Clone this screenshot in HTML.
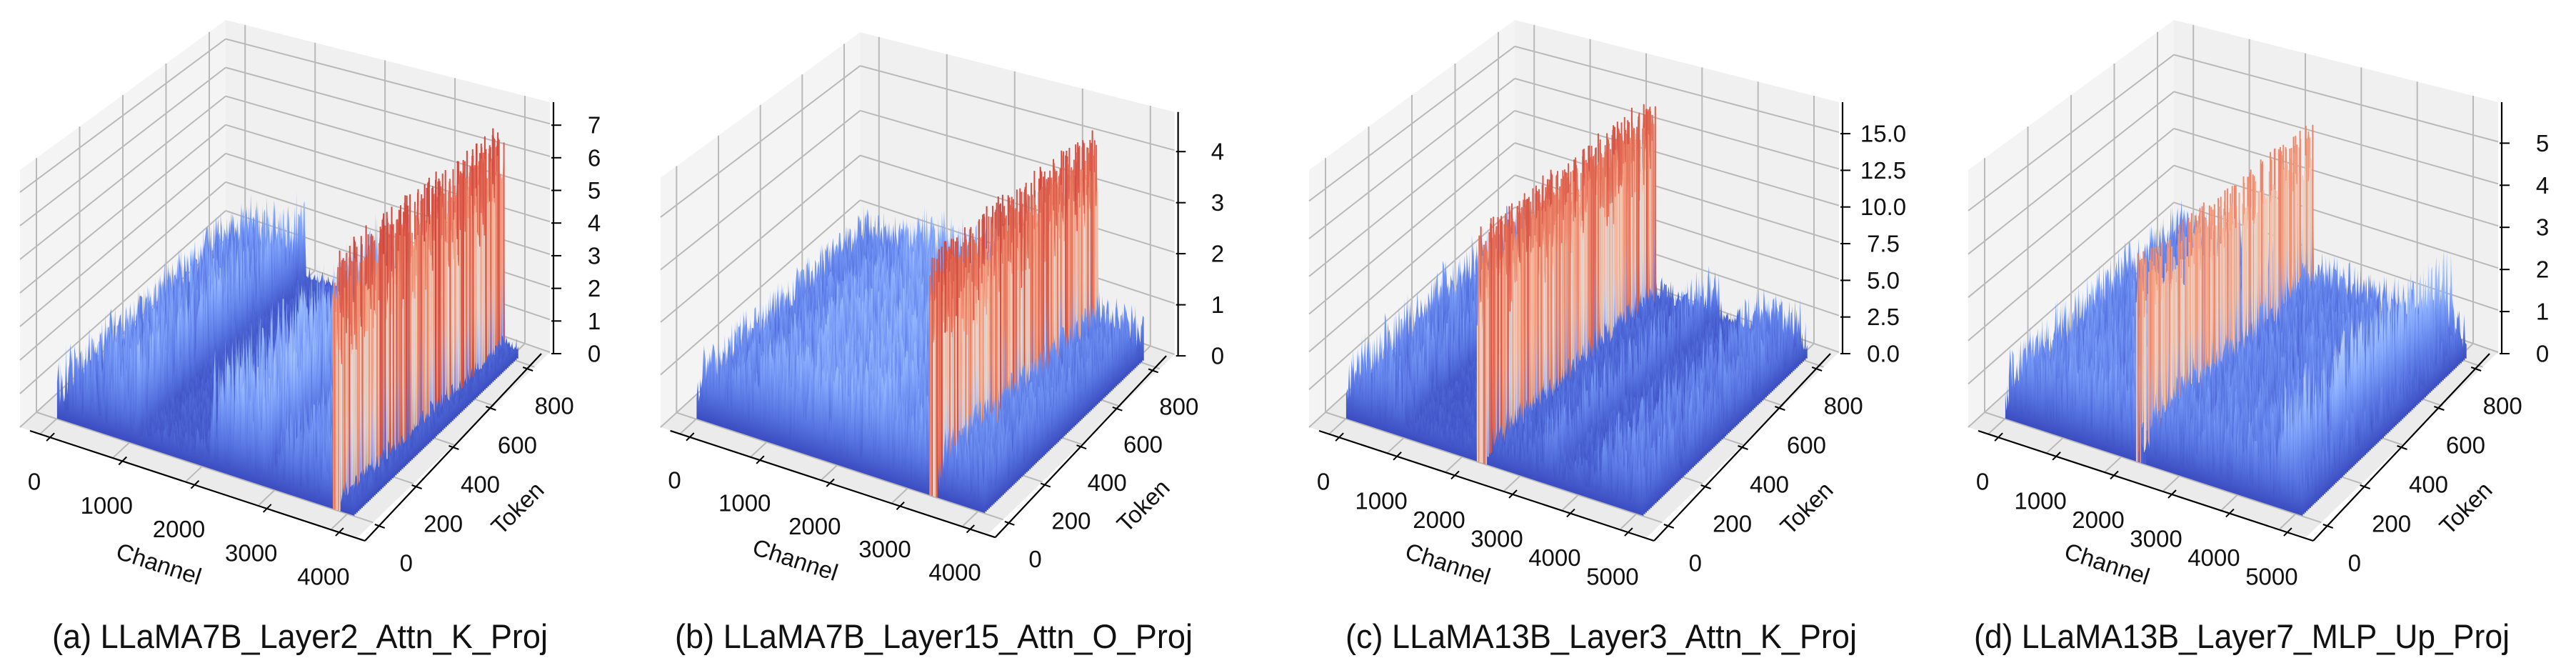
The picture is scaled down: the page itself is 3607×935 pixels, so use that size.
<!DOCTYPE html>
<html>
<head>
<meta charset="utf-8">
<style>
html,body{margin:0;padding:0;background:#fff;}
svg{display:block;}
text{font-family:"Liberation Sans",sans-serif;fill:#111;}
</style>
</head>
<body>
<svg id="fig" xmlns="http://www.w3.org/2000/svg" width="3607" height="935" viewBox="0 0 3607 935">
<defs id="defs"></defs>
<rect x="0" y="0" width="3607" height="935" fill="#ffffff"/>
</svg>
<script>
// ---------------- data ----------------
const panelTitles = ["(a) LLaMA7B_Layer2_Attn_K_Proj","(b) LLaMA7B_Layer15_Attn_O_Proj","(c) LLaMA13B_Layer3_Attn_K_Proj","(d) LLaMA13B_Layer7_MLP_Up_Proj"];
const channelTicksA = [0,1000,2000,3000,4000];
const channelTicksB = [0,1000,2000,3000,4000];
const channelTicksC = [0,1000,2000,3000,4000,5000];
const channelTicksD = [0,1000,2000,3000,4000,5000];
const tokenTicks = [0,200,400,600,800];
const zTicksA = [0,1,2,3,4,5,6,7];
const zTicksB = [0,1,2,3,4];
const zTicksC = [0,2.5,5,7.5,10,12.5,15];
const zTicksD = [0,1,2,3,4,5];
const zLimits = [7.66,4.75,17.05,5.94];
const channelCounts = [4096,4096,5120,5120];
const tokenCount = 810;
// magnitude level per channel region (region start channel / typical peak magnitude)
const regionStartA = [0,300,1000,1100,1900,2050,2900,3050,3800,3900];
const regionLevelA = [1.8,2.4,3.0,0.5,0.8,3.0,0.8,2.0,7.0,0.5];
const regionStartB = [0,800,2600,3300,3420];
const regionLevelB = [1.2,1.6,1.3,4.3,1.0];
const regionStartC = [0,1000,2250,2420,3400,3550,4300,4500];
const regionLevelC = [4.5,1.0,15.0,2.0,4.5,1.5,4.0,3.5];
const regionStartD = [0,2250,2420,4700,4950];
const regionLevelD = [1.6,4.6,1.3,2.6,1.0];

// ---------------- layout / style ----------------
const chTicksAll = [channelTicksA,channelTicksB,channelTicksC,channelTicksD];
const zTicksAll = [zTicksA,zTicksB,zTicksC,zTicksD];
const regStarts = [regionStartA,regionStartB,regionStartC,regionStartD];
const regLevels = [regionLevelA,regionLevelB,regionLevelC,regionLevelD];
const roughExp = [3,2,3,2.5];
const denseOut = [true,true,true,false];
const ox = [0,897,1805,2728];
const sc = [1,0.97,1.0,1.0];
const capX = [[73,767],[945,1670],[1884,2600],[2764,3514]];
const GA=[28,598], GB=[501,752], GC=[770,493], GD=[316,335];
const GH=[360,410,350,307];
const NS='http://www.w3.org/2000/svg';
const svg=document.getElementById('fig');
const defs=document.getElementById('defs');

function mk(tag, attrs, parent){
  const e=document.createElementNS(NS,tag);
  for(const k in attrs) e.setAttribute(k, attrs[k]);
  (parent||svg).appendChild(e);
  return e;
}
const cwStops=[[0,[59,76,192]],[0.1,[84,112,222]],[0.2,[110,144,242]],[0.3,[141,176,254]],[0.4,[170,199,253]],[0.5,[221,220,220]],[0.6,[242,203,183]],[0.7,[244,164,135]],[0.8,[231,116,91]],[0.9,[209,73,63]],[1,[180,4,38]]];
function coolwarm(t){
  t=Math.max(0,Math.min(1,t));
  for(let i=1;i<cwStops.length;i++){
    if(t<=cwStops[i][0]){
      const a=cwStops[i-1], b=cwStops[i]; const f=(t-a[0])/(b[0]-a[0]);
      const c=a[1].map((x,k)=>Math.round(x+(b[1][k]-x)*f));
      return 'rgb('+c.join(',')+')';
    }
  }
  return 'rgb(180,4,38)';
}
function P(pi,u,v,z){
  const w=[(1-u)*(1-v),u*(1-v),u*v,(1-u)*v];
  const x=GA[0]*w[0]+GB[0]*w[1]+GC[0]*w[2]+GD[0]*w[3];
  const y=GA[1]*w[0]+GB[1]*w[1]+GC[1]*w[2]+GD[1]*w[3];
  const h=GH[0]*w[0]+GH[1]*w[1]+GH[2]*w[2]+GH[3]*w[3];
  const yy=y-h*z/zLimits[pi];
  return [ox[pi]+28+sc[pi]*(x-28), 598+sc[pi]*(yy-598)];
}
function chMaxTick(pi){ const t=chTicksAll[pi]; return t[t.length-1]; }
function uOf(pi,ch){ return 0.06+0.863*ch/chMaxTick(pi); }
function vOf(tok){ return 0.08+0.84*tok/800; }
function T(pi,x,y){ return [ox[pi]+28+sc[pi]*(x-28), 598+sc[pi]*(y-598)]; }
function levelAt(pi,ch){
  const s=regStarts[pi], l=regLevels[pi]; let k=0;
  for(let i=0;i<s.length;i++) if(s[i]<=ch) k=i;
  return l[k];
}
function texture(i,r,p){ const s=Math.sin(i*12.9898+r*78.233+p*37.719)*43758.5453; return s-Math.floor(s); }
function heightAt(pi,ch,i,r){
  const L=levelAt(pi,ch), zh=zLimits[pi], n=texture(i,r,pi);
  if(L>0.6*zh){
    if(denseOut[pi]) return L*(0.55+0.45*n);
    return n>0.55 ? L*(0.3+0.7*n) : L*0.3*n+0.03*zh;
  }
  return 0.03*zh + L*Math.pow(n,roughExp[pi]);
}
function line(p,q,stroke,w,parent){
  return mk('line',{x1:p[0].toFixed(1),y1:p[1].toFixed(1),x2:q[0].toFixed(1),y2:q[1].toFixed(1),stroke:stroke,'stroke-width':w},parent);
}
function poly(pts){ return pts.map(p=>p[0].toFixed(1)+','+p[1].toFixed(1)).join(' '); }

for(let pi=0;pi<4;pi++){
  const zh=zLimits[pi];
  const g=mk('g',{});
  
  
  const leftPane=mk('polygon',{points:poly([P(pi,0,0,0),P(pi,0,1,0),P(pi,0,1,zh),P(pi,0,0,zh)]),fill:'#f4f4f4'},g);
  
  
  const backPane=mk('polygon',{points:poly([P(pi,0,1,0),P(pi,1,1,0),P(pi,1,1,zh),P(pi,0,1,zh)]),fill:'#f0f0f0'},g);
  
  
  const floorPane=mk('polygon',{points:poly([P(pi,0,0,0),P(pi,1,0,0),P(pi,1,1,0),P(pi,0,1,0)]),fill:'#ebebeb'},g);
  
  
  const grid=mk('g',{},g);
  
  
  const gc='#b9b9b9', gw=2;
  tokenTicks.forEach(t=>{const v=vOf(t); line(P(pi,0,v,0),P(pi,0,v,zh),gc,gw,grid); line(P(pi,0,v,0),P(pi,1,v,0),gc,gw,grid);});
  chTicksAll[pi].forEach(c=>{const u=uOf(pi,c); line(P(pi,u,1,0),P(pi,u,1,zh),gc,gw,grid); line(P(pi,u,0,0),P(pi,u,1,0),gc,gw,grid);});
  zTicksAll[pi].forEach(z=>{ line(P(pi,0,0,z),P(pi,0,1,z),gc,gw,grid); line(P(pi,0,1,z),P(pi,1,1,z),gc,gw,grid);});
  const surf=mk('g',{},g);
  
  
  const NB=240, chN=channelCounts[pi];
  let r=0;
  for(let tok=tokenCount; tok>=0; tok-=8, r++){
    const v=vOf(tok);
    const p0=P(pi,0,v,0), p1=P(pi,1,v,0);
    const slope=(p1[1]-p0[1])/(p1[0]-p0[0]);
    const S=((p0[1]-P(pi,0,v,zh)[1])+(p1[1]-P(pi,1,v,zh)[1]))/2;
    const y0=p0[1]-slope*p0[0];
    const gid='g'+pi+'_'+r;
    const lg=mk('linearGradient',{id:gid,gradientUnits:'userSpaceOnUse',x1:0,y1:0,x2:0,y2:1,gradientTransform:'matrix(1 '+slope.toFixed(5)+' 0 '+(-S).toFixed(2)+' 0 '+y0.toFixed(2)+')'},defs);
    for(let k=0;k<=10;k++) mk('stop',{offset:k/10,'stop-color':coolwarm(k/10)},lg);
    const pts=[P(pi,uOf(pi,0),v,0)];
    const outl=[];
    for(let i=0;i<=NB;i++){
      const ch=i/NB*chN, u=uOf(pi,ch);
      const h=heightAt(pi,ch,i,r);
      const q=P(pi,u,v,h);
      pts.push(q);
      if(levelAt(pi,ch)>0.6*zh) outl.push([P(pi,u,v,0),q,h]);
    }
    pts.push(P(pi,uOf(pi,chN),v,0));
    const row=mk('polygon',{points:poly(pts),fill:'url(#'+gid+')'},surf);
    
    
    outl.forEach(o=>{
      const sp=line(o[0],o[1],coolwarm(o[2]/zh),2,surf);
      
      
    });
  }
  const ax=mk('g',{},g);
  
  
  const XA=[GA[0]+14,GA[1]+5], XB=[GB[0]+10,GB[1]+5];
  const xl=line(T(pi,XA[0],XA[1]),T(pi,XB[0],XB[1]),'#000',2.2,ax);
  
  
  chTicksAll[pi].forEach(c=>{
    const u=uOf(pi,c);
    const px=XA[0]+u*(XB[0]-XA[0]), py=XA[1]+u*(XB[1]-XA[1]);
    line(T(pi,px-5,py+5),T(pi,px+6,py-6),'#000',2,ax);
    const lp=T(pi,px-22,py+62);
    const tx=mk('text',{x:lp[0].toFixed(1),y:lp[1].toFixed(1),'font-size':33,'text-anchor':'middle','dominant-baseline':'central'},ax);
    
    
    tx.textContent=String(c);
  });
  const TA=[511,757], TB=[758,495];
  const tl=line(T(pi,TA[0],TA[1]),T(pi,TB[0],TB[1]),'#000',2.2,ax);
  
  
  tokenTicks.forEach(t=>{
    const v=vOf(t);
    const px=TA[0]+v*(TB[0]-TA[0]), py=TA[1]+v*(TB[1]-TA[1]);
    line(T(pi,px-6,py-2),T(pi,px+8,py+3),'#000',2,ax);
    const lp=T(pi,px+38,py+52);
    const tx=mk('text',{x:lp[0].toFixed(1),y:lp[1].toFixed(1),'font-size':33,'text-anchor':'middle','dominant-baseline':'central'},ax);
    
    
    tx.textContent=String(t);
  });
  const zx=GC[0]+5;
  const zl=line(T(pi,zx,GC[1]+2),T(pi,zx,GC[1]-GH[2]),'#000',2.2,ax);
  
  
  zTicksAll[pi].forEach(z=>{
    const y=GC[1]+2-GH[2]*z/zh;
    line(T(pi,zx-3,y),T(pi,zx+11,y),'#000',2,ax);
    const lp=T(pi,zx+57,y);
    const tx=mk('text',{x:lp[0].toFixed(1),y:lp[1].toFixed(1),'font-size':33,'text-anchor':'middle','dominant-baseline':'central'},ax);
    
    
    tx.textContent = pi===2 ? z.toFixed(1) : String(z);
  });
  const cp=T(pi,(XA[0]+XB[0])/2-54,(XA[1]+XB[1])/2+109);
  const ct=mk('text',{x:cp[0].toFixed(1),y:cp[1].toFixed(1),'font-size':33,'text-anchor':'middle','dominant-baseline':'central',transform:'rotate(18 '+cp[0].toFixed(1)+' '+cp[1].toFixed(1)+')'},ax);
  
  
  ct.textContent='Channel';
  const tp=T(pi,(TA[0]+TB[0])/2+90,(TA[1]+TB[1])/2+85);
  const tt=mk('text',{x:tp[0].toFixed(1),y:tp[1].toFixed(1),'font-size':33,'text-anchor':'middle','dominant-baseline':'central',transform:'rotate(-45 '+tp[0].toFixed(1)+' '+tp[1].toFixed(1)+')'},ax);
  
  
  tt.textContent='Token';
  const cap=mk('text',{x:capX[pi][0],y:907,'font-size':47,textLength:capX[pi][1]-capX[pi][0],lengthAdjust:'spacingAndGlyphs'},g);
  
  
  cap.textContent=panelTitles[pi];
}
</script>
</body>
</html>
